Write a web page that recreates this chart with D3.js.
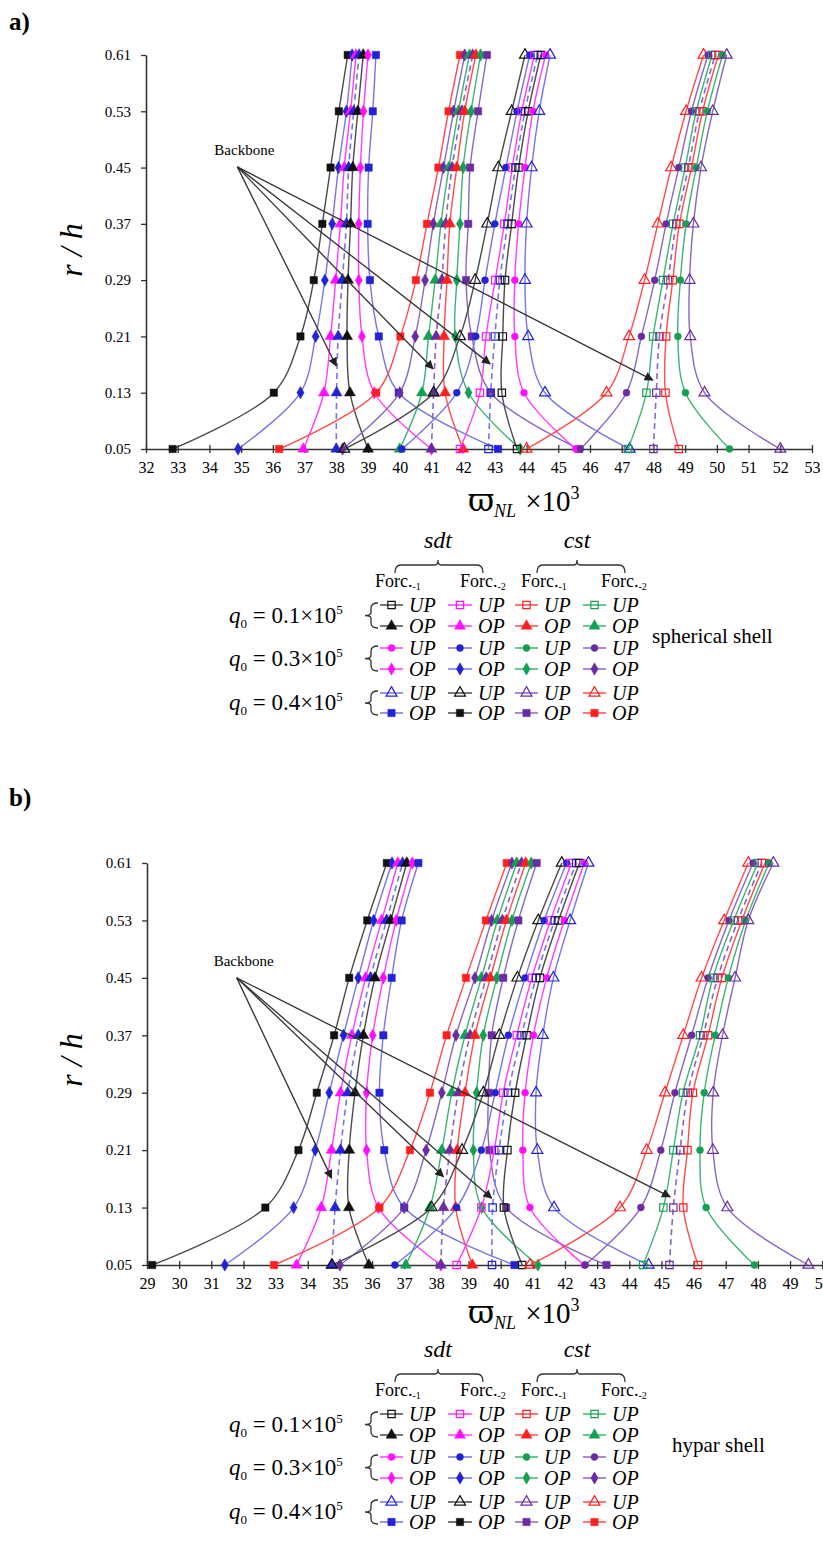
<!DOCTYPE html>
<html><head><meta charset="utf-8">
<script src="https://cdn.jsdelivr.net/npm/d3@7"></script>
<style>
body{margin:0;background:#fff}
svg{display:block}
text{font-family:"Liberation Serif","Times New Roman",serif;fill:#000}
</style>
</head><body>
<svg id="c" width="823" height="1549"></svg>
<script>
// ---------- DATA ----------
const levels = [0.05, 0.13, 0.21, 0.29, 0.37, 0.45, 0.53, 0.61];
const xTicksA = d3.range(32, 54);
const xTicksB = d3.range(29, 51);
// row order in each cluster: left q0.4, left q0.3, left q0.1, backbone, right q0.1, right q0.3, right q0.4
// (a) spherical shell
const sphC1 = [ // sdt OP
  [32.84, 36.03, 36.87, 37.29, 37.56, 37.82, 38.08, 38.36],
  [34.90, 36.87, 37.35, 37.64, 37.87, 38.07, 38.32, 38.50],
  [36.96, 37.61, 37.82, 37.98, 38.13, 38.25, 38.45, 38.62],
  [38.00, 38.01, 38.06, 38.19, 38.32, 38.39, 38.55, 38.72],
  [39.00, 38.43, 38.34, 38.37, 38.45, 38.52, 38.68, 38.85],
  [41.00, 39.20, 38.81, 38.71, 38.71, 38.76, 38.86, 39.00],
  [43.10, 39.97, 39.34, 39.06, 38.99, 39.02, 39.15, 39.25]];
const sphC2 = [ // cst OP
  [36.20, 39.26, 40.02, 40.51, 40.86, 41.22, 41.54, 41.90],
  [38.20, 40.00, 40.49, 40.80, 41.06, 41.38, 41.70, 42.05],
  [40.00, 40.70, 40.91, 41.12, 41.30, 41.55, 41.85, 42.20],
  [41.00, 41.07, 41.15, 41.33, 41.45, 41.65, 41.95, 42.30],
  [42.00, 41.43, 41.40, 41.49, 41.58, 41.80, 42.05, 42.40],
  [43.80, 42.17, 41.75, 41.80, 41.90, 42.00, 42.25, 42.55],
  [45.65, 42.87, 42.27, 42.09, 42.16, 42.22, 42.47, 42.75]];
const sphC3 = [ // sdt UP
  [38.25, 41.07, 41.90, 42.38, 42.76, 43.11, 43.53, 43.95],
  [40.07, 41.80, 42.40, 42.69, 43.00, 43.35, 43.70, 44.10],
  [41.90, 42.53, 42.72, 43.01, 43.30, 43.55, 43.85, 44.25],
  [42.80, 42.87, 43.00, 43.16, 43.40, 43.65, 43.95, 44.35],
  [43.70, 43.22, 43.25, 43.32, 43.53, 43.75, 44.05, 44.45],
  [45.55, 43.92, 43.63, 43.63, 43.75, 43.95, 44.20, 44.60],
  [47.25, 44.58, 44.05, 43.95, 44.00, 44.16, 44.40, 44.74]];
const sphC4 = [ // cst UP
  [44.00, 46.52, 47.23, 47.72, 48.14, 48.56, 49.03, 49.58],
  [45.70, 47.15, 47.62, 48.04, 48.40, 48.80, 49.20, 49.72],
  [47.20, 47.78, 47.99, 48.30, 48.62, 49.00, 49.35, 49.85],
  [48.00, 48.09, 48.19, 48.46, 48.72, 49.10, 49.45, 49.95],
  [48.80, 48.38, 48.40, 48.61, 48.82, 49.20, 49.55, 50.05],
  [50.40, 49.01, 48.77, 48.85, 49.03, 49.35, 49.70, 50.18],
  [52.00, 49.61, 49.16, 49.14, 49.26, 49.50, 49.87, 50.31]];
// (b) hypar shell
const hypC1 = [
  [29.16, 32.68, 33.71, 34.28, 34.82, 35.29, 35.85, 36.46],
  [31.42, 33.56, 34.23, 34.67, 35.11, 35.57, 36.05, 36.62],
  [33.65, 34.42, 34.74, 35.02, 35.37, 35.80, 36.30, 36.80],
  [34.75, 34.85, 35.02, 35.24, 35.57, 35.95, 36.45, 36.95],
  [35.90, 35.28, 35.29, 35.47, 35.73, 36.09, 36.58, 37.08],
  [38.14, 36.20, 35.83, 35.83, 36.02, 36.35, 36.75, 37.25],
  [40.43, 37.00, 36.38, 36.23, 36.35, 36.61, 36.92, 37.44]];
const hypC2 = [
  [32.95, 36.23, 37.18, 37.80, 38.32, 38.92, 39.54, 40.19],
  [35.00, 37.00, 37.68, 38.17, 38.61, 39.20, 39.72, 40.35],
  [37.05, 37.80, 38.17, 38.48, 38.89, 39.40, 39.90, 40.50],
  [38.14, 38.22, 38.42, 38.68, 39.05, 39.55, 40.05, 40.65],
  [39.12, 38.60, 38.65, 38.89, 39.20, 39.68, 40.18, 40.78],
  [41.16, 39.41, 39.15, 39.25, 39.46, 39.88, 40.35, 40.95],
  [43.29, 40.17, 39.65, 39.62, 39.72, 40.08, 40.55, 41.12]];
const hypC3 = [
  [34.75, 37.85, 38.80, 39.46, 39.96, 40.52, 41.17, 41.90],
  [36.71, 38.63, 39.40, 39.83, 40.24, 40.76, 41.35, 42.05],
  [38.63, 39.40, 39.80, 40.08, 40.50, 40.97, 41.55, 42.20],
  [39.73, 39.75, 39.95, 40.23, 40.65, 41.10, 41.68, 42.35],
  [40.67, 40.10, 40.21, 40.45, 40.81, 41.22, 41.80, 42.45],
  [42.60, 40.91, 40.69, 40.76, 41.02, 41.43, 41.98, 42.60],
  [44.60, 41.66, 41.14, 41.10, 41.31, 41.64, 42.16, 42.73]];
const hypC4 = [
  [40.91, 43.71, 44.54, 45.11, 45.68, 46.25, 46.95, 47.70],
  [42.63, 44.36, 44.98, 45.42, 45.94, 46.45, 47.10, 47.85],
  [44.43, 45.06, 45.37, 45.67, 46.20, 46.60, 47.25, 48.00],
  [45.25, 45.37, 45.58, 45.82, 46.30, 46.75, 47.38, 48.12],
  [46.14, 45.68, 45.81, 45.98, 46.45, 46.88, 47.50, 48.22],
  [47.89, 46.39, 46.20, 46.33, 46.67, 47.08, 47.62, 48.35],
  [49.57, 47.05, 46.60, 46.61, 46.90, 47.29, 47.70, 48.48]];
// backbone annotation: [origin, tip1..tip4] in data units (x value, r/h)
const backboneA = [[34.88, 0.451], [38.0, 0.168], [41.05, 0.164], [42.85, 0.171], [47.98, 0.148]];
const backboneB = [[31.79, 0.450], [34.74, 0.171], [38.22, 0.173], [39.72, 0.143], [45.27, 0.145]];
const legendRows = ["UP", "OP", "UP", "OP", "UP", "OP"];
const legendLoads = ["0.1", "0.3", "0.4"];

// ---------- STYLE ----------
const COL = {
  black: {m: '#111', l: '#4a4a4a'},
  blue: {m: '#2323d6', l: '#7676e4'},
  magenta: {m: '#ff10ff', l: '#ff3cff'},
  red: {m: '#ff1f1f', l: '#ff4c4c'},
  green: {m: '#13a052', l: '#3db473'},
  purple: {m: '#6b2ca2', l: '#8b66c0'}
};
// [color, shape, filled]
const clusterStyles = [
  [['black','square',1],['blue','diamond',1],['magenta','triangle',1],['blue','triangle',1],['black','triangle',1],['magenta','diamond',1],['blue','square',1]],
  [['red','square',1],['purple','diamond',1],['green','triangle',1],['purple','triangle',1],['red','triangle',1],['green','diamond',1],['purple','square',1]],
  [['black','triangle',0],['blue','circle',1],['magenta','square',0],['blue','square',0],['black','square',0],['magenta','circle',1],['blue','triangle',0]],
  [['red','triangle',0],['purple','circle',1],['green','square',0],['purple','square',0],['red','square',0],['green','circle',1],['purple','triangle',0]]
];
// legend columns: sdt Forc1, sdt Forc2, cst Forc1, cst Forc2 ; rows: q0.1 UP/OP, q0.3 UP/OP, q0.4 UP/OP
const legendStyles = [
  [['black','square',0],['black','triangle',1],['magenta','circle',1],['magenta','diamond',1],['blue','triangle',0],['blue','square',1]],
  [['magenta','square',0],['magenta','triangle',1],['blue','circle',1],['blue','diamond',1],['black','triangle',0],['black','square',1]],
  [['red','square',0],['red','triangle',1],['green','circle',1],['green','diamond',1],['purple','triangle',0],['purple','square',1]],
  [['green','square',0],['green','triangle',1],['purple','circle',1],['purple','diamond',1],['red','triangle',0],['red','square',1]]
];
const SYM = {square: d3.symbolSquare, triangle: d3.symbolTriangle, diamond: d3.symbolDiamond, circle: d3.symbolCircle};
const SIZE = {square: 54, triangle: 52, diamond: 44, circle: 38};

const svg = d3.select('#c');
svg.append('defs').append('marker').attr('id', 'arr')
  .attr('viewBox', '0 0 10 10').attr('refX', 9).attr('refY', 5)
  .attr('markerWidth', 7).attr('markerHeight', 7).attr('orient', 'auto')
  .append('path').attr('d', 'M0,0 L10,5 L0,10 z').attr('fill', '#222');

function drawMarker(g, px, py, st) {
  const [c, s, f] = st;
  g.append('path').attr('d', d3.symbol(SYM[s], SIZE[s])())
    .attr('transform', `translate(${px},${py})`)
    .attr('fill', f ? COL[c].m : 'none')
    .attr('stroke', COL[c].m).attr('stroke-width', f ? 0.5 : 1.2);
}

function drawChart(cfg) {
  const x = d3.scaleLinear().domain(cfg.xDomain).range(cfg.xRange);
  const y = d3.scaleLinear().domain([0.05, 0.61]).range(cfg.yRange);
  const g = svg.append('g');

  // axes
  const gx = g.append('g').attr('transform', `translate(0,${cfg.yRange[0]})`)
    .call(d3.axisBottom(x).tickValues(cfg.xTicks).tickFormat(d3.format('d')).tickSizeInner(4).tickSizeOuter(0).tickPadding(9));
  gx.selectAll('.tick line').attr('y1', -4).attr('stroke', '#333').attr('stroke-width', 1.3);
  gx.select('.domain').attr('stroke', '#333').attr('stroke-width', 1.6);
  gx.selectAll('text').attr('font-size', 16).attr('font-family', '"Liberation Serif",serif').attr('fill', '#222');

  const gy = g.append('g').attr('transform', `translate(${cfg.xRange[0]},0)`)
    .call(d3.axisLeft(y).tickValues(levels).tickFormat(d3.format('.2f')).tickSizeInner(5).tickSizeOuter(0).tickPadding(10));
  gy.selectAll('.tick line').attr('stroke', '#333').attr('stroke-width', 1.3);
  gy.select('.domain').attr('stroke', '#333').attr('stroke-width', 1.6);
  gy.selectAll('text').attr('font-size', 15).attr('font-family', '"Liberation Serif",serif').attr('fill', '#222');

  const line = d3.line().x(d => x(d[0])).y(d => y(d[1])).curve(d3.curveCatmullRom.alpha(0.5));

  cfg.clusters.forEach((cl, ci) => {
    cl.forEach((vals, si) => {
      const st = clusterStyles[ci][si];
      const pts = vals.map((v, i) => [v, levels[i]]);
      const bb = si === 3;
      g.append('path').attr('d', line(pts)).attr('fill', 'none')
        .attr('stroke', COL[st[0]].l).attr('stroke-width', bb ? 1.6 : 1.4)
        .attr('stroke-dasharray', bb ? '6,4' : null);
      pts.forEach(p => drawMarker(g, x(p[0]), y(p[1]), st));
    });
  });

  // backbone annotation
  const [o, ...tips] = cfg.backbone;
  tips.forEach(t => {
    g.append('line').attr('x1', x(o[0])).attr('y1', y(o[1])).attr('x2', x(t[0])).attr('y2', y(t[1]))
      .attr('stroke', '#333').attr('stroke-width', 1.3).attr('marker-end', 'url(#arr)');
  });
  g.append('text').attr('x', x(o[0]) + 7).attr('y', y(o[1]) - 12).attr('text-anchor', 'middle')
    .attr('font-size', 15).text('Backbone');

  // axis titles
  const t = g.append('text').attr('x', cfg.titleX).attr('y', cfg.titleY);
  t.append('tspan').attr('font-size', 32).attr('font-family', '"DejaVu Serif",serif').text('ϖ');
  t.append('tspan').attr('font-size', 18).attr('font-style', 'italic').attr('dy', 6).text('NL');
  t.append('tspan').attr('font-size', 29).attr('dy', -6).attr('dx', 9).text('×10');
  t.append('tspan').attr('font-size', 18).attr('dy', -12).text('3');

  g.append('text').attr('transform', `translate(${cfg.yLabelX},${cfg.yLabelY}) rotate(-90)`)
    .attr('text-anchor', 'middle').attr('font-size', 32).attr('font-style', 'italic').text('r / h');

  g.append('text').attr('x', 9).attr('y', cfg.tagY).attr('font-size', 25).attr('font-weight', 'bold').text(cfg.tag);
}

function drawLegend(dy, shellName, shellX) {
  const g = svg.append('g').attr('transform', `translate(0,${dy})`);
  // group labels & braces
  [['sdt', 438, 395, 483], ['cst', 577, 537, 625]].forEach(([lab, cx, x0, x1]) => {
    g.append('text').attr('x', cx).attr('y', 548).attr('text-anchor', 'middle')
      .attr('font-size', 24).attr('font-style', 'italic').text(lab);
    g.append('path').attr('fill', 'none').attr('stroke', '#333').attr('stroke-width', 1.3)
      .attr('d', `M${x0},573 Q${x0},565 ${x0 + 6},565 L${cx - 3},565 Q${cx},565 ${cx},560 Q${cx},565 ${cx + 3},565 L${x1 - 6},565 Q${x1},565 ${x1},573`);
  });
  const colLine = [[380, 403], [448, 472], [515, 538], [583, 606]];
  const forcX = [375, 460, 521, 601];
  forcX.forEach((fx, i) => {
    const t = g.append('text').attr('x', fx).attr('y', 587).attr('font-size', 18);
    t.append('tspan').text('Forc.');
    t.append('tspan').attr('font-size', 10).attr('dy', 3).text(i % 2 === 0 ? '-1' : '-2');
  });
  const rowY = [605, 626, 648, 669, 693, 713];
  legendLoads.forEach((ld, k) => {
    const cy = (rowY[2 * k] + rowY[2 * k + 1]) / 2;
    const t = g.append('text').attr('x', 229).attr('y', cy + 7).attr('font-size', 23);
    t.append('tspan').attr('font-style', 'italic').text('q');
    t.append('tspan').attr('font-size', 13).attr('dy', 5).text('0');
    t.append('tspan').attr('dy', -5).text(' = ' + ld + '×10');
    t.append('tspan').attr('font-size', 13).attr('dy', -9).text('5');
    // left brace
    const a = rowY[2 * k] - 2, b = rowY[2 * k + 1] + 2;
    g.append('path').attr('fill', 'none').attr('stroke', '#333').attr('stroke-width', 1.3)
      .attr('d', `M378,${a} Q371,${a} 371,${a + 5} L371,${cy - 3} Q371,${cy} 365,${cy} Q371,${cy} 371,${cy + 3} L371,${b - 5} Q371,${b} 378,${b}`);
  });
  colLine.forEach(([x0, x1], ci) => {
    rowY.forEach((ry, ri) => {
      const st = legendStyles[ci][ri];
      g.append('line').attr('x1', x0).attr('x2', x1).attr('y1', ry).attr('y2', ry)
        .attr('stroke', COL[st[0]].l).attr('stroke-width', 1.5);
      drawMarker(g, (x0 + x1) / 2, ry, st);
      g.append('text').attr('x', x1 + 6).attr('y', ry + 6.5).attr('font-size', 20)
        .attr('font-style', 'italic').text(legendRows[ri]);
    });
  });
  g.append('text').attr('x', shellX).attr('y', 643).attr('font-size', 21).text(shellName);
}

drawChart({xDomain: [32, 53], xRange: [146, 812], yRange: [449, 55], xTicks: xTicksA,
  clusters: [sphC1, sphC2, sphC3, sphC4], backbone: backboneA,
  titleX: 468, titleY: 511, yLabelX: 82, yLabelY: 250, tag: 'a)', tagY: 30});
drawChart({xDomain: [29, 50], xRange: [147, 822.2], yRange: [1265, 863], xTicks: xTicksB,
  clusters: [hypC1, hypC2, hypC3, hypC4], backbone: backboneB,
  titleX: 468, titleY: 1323, yLabelX: 82, yLabelY: 1060, tag: 'b)', tagY: 806});
drawLegend(0, 'spherical shell', 652);
drawLegend(809, 'hypar shell', 672);
</script>
</body></html>
